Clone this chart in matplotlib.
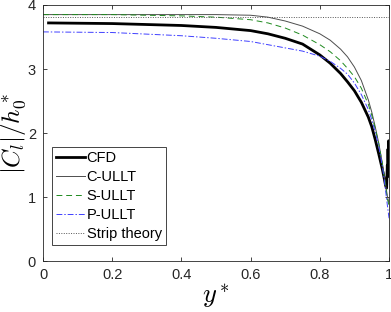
import numpy as np
import matplotlib
matplotlib.use('Agg')
import matplotlib.pyplot as plt
from matplotlib.ticker import FormatStrFormatter

plt.rcParams['font.family'] = ['Liberation Sans', 'DejaVu Sans']
plt.rcParams['mathtext.fontset'] = 'cm'

# spanwise positions for the ULLT curves
y_span = [0.0, 0.2, 0.4, 0.5, 0.6, 0.65, 0.7, 0.75, 0.8, 0.83, 0.86, 0.88,
          0.9, 0.92, 0.94, 0.95, 0.96, 0.97, 0.98, 0.985, 0.99, 0.995, 1.0]
c_ullt = [3.85, 3.85, 3.85, 3.85, 3.84, 3.81, 3.75, 3.67, 3.55, 3.45, 3.31, 3.19,
          3.03, 2.82, 2.52, 2.33, 2.10, 1.85, 1.55, 1.38, 1.20, 1.02, 0.90]
s_ullt = [3.85, 3.85, 3.83, 3.81, 3.77, 3.72, 3.64, 3.53, 3.38, 3.27, 3.13, 3.01,
          2.88, 2.70, 2.45, 2.28, 2.07, 1.84, 1.54, 1.36, 1.17, 0.98, 0.86]
p_ullt = [3.58, 3.57, 3.52, 3.48, 3.43, 3.38, 3.33, 3.28, 3.20, 3.12, 3.01, 2.92,
          2.78, 2.60, 2.37, 2.21, 2.02, 1.80, 1.50, 1.32, 1.10, 0.88, 0.67]

# CFD spanwise positions and values
y_cfd = [0.016, 0.2, 0.4, 0.5, 0.6, 0.65, 0.7, 0.75, 0.8, 0.83, 0.86, 0.88,
         0.9, 0.92, 0.94, 0.95, 0.96, 0.97, 0.98, 0.985, 0.99, 0.993, 0.995,
         0.996, 0.997, 0.998, 0.999, 1.0]
cfd = [3.72, 3.71, 3.68, 3.65, 3.60, 3.55, 3.48, 3.39, 3.22, 3.09, 2.93, 2.80,
       2.66, 2.48, 2.25, 2.10, 1.90, 1.68, 1.45, 1.32, 1.18, 1.14, 1.50,
       1.32, 1.75, 1.38, 1.88, 1.45]

strip = 3.82

fig = plt.figure(figsize=(3.91, 3.12), dpi=100)
ax = fig.add_axes([0.110, 0.163, 0.885, 0.821])

ax.plot(y_cfd, cfd, color='k', lw=2.0, label='CFD')
ax.plot(y_span, c_ullt, color='#4d4d4d', lw=0.7, label='C-ULLT')
ax.plot(y_span, s_ullt, color='#1f8a1f', lw=0.7, ls=(0, (6, 4)), label='S-ULLT')
ax.plot(y_span, p_ullt, color='#4040ff', lw=0.7, ls=(0, (6, 2, 1.5, 2)), label='P-ULLT')
ax.plot([0, 1], [strip, strip], color='#555555', lw=0.7, ls=(0, (1, 1.5)),
        label='Strip theory')

ax.set_xlim(0, 1)
ax.set_ylim(0, 4)
ax.set_xticks([0, 0.2, 0.4, 0.6, 0.8, 1])
ax.set_yticks([0, 1, 2, 3, 4])
ax.xaxis.set_major_formatter(FormatStrFormatter('%g'))
ax.yaxis.set_major_formatter(FormatStrFormatter('%g'))
ax.tick_params(direction='in', top=True, right=True, labelsize=10.5,
               length=3, width=0.6, colors='#262626', pad=5)
for s in ax.spines.values():
    s.set_linewidth(0.6)
    s.set_color('#262626')

ax.set_xlabel('$y^*$', fontsize=19, labelpad=0)
ax.set_ylabel('$|C_l|/h_0^*$', fontsize=18, labelpad=0)

leg = ax.legend(loc='lower left', bbox_to_anchor=(0.025, 0.063), fontsize=10.5,
                handlelength=2.0, handletextpad=0.1, borderpad=0.3,
                labelspacing=0.33, borderaxespad=0, fancybox=False,
                framealpha=1)
leg.get_frame().set_edgecolor('#262626')
leg.get_frame().set_linewidth(0.6)

plt.savefig('out.png', dpi=100)
